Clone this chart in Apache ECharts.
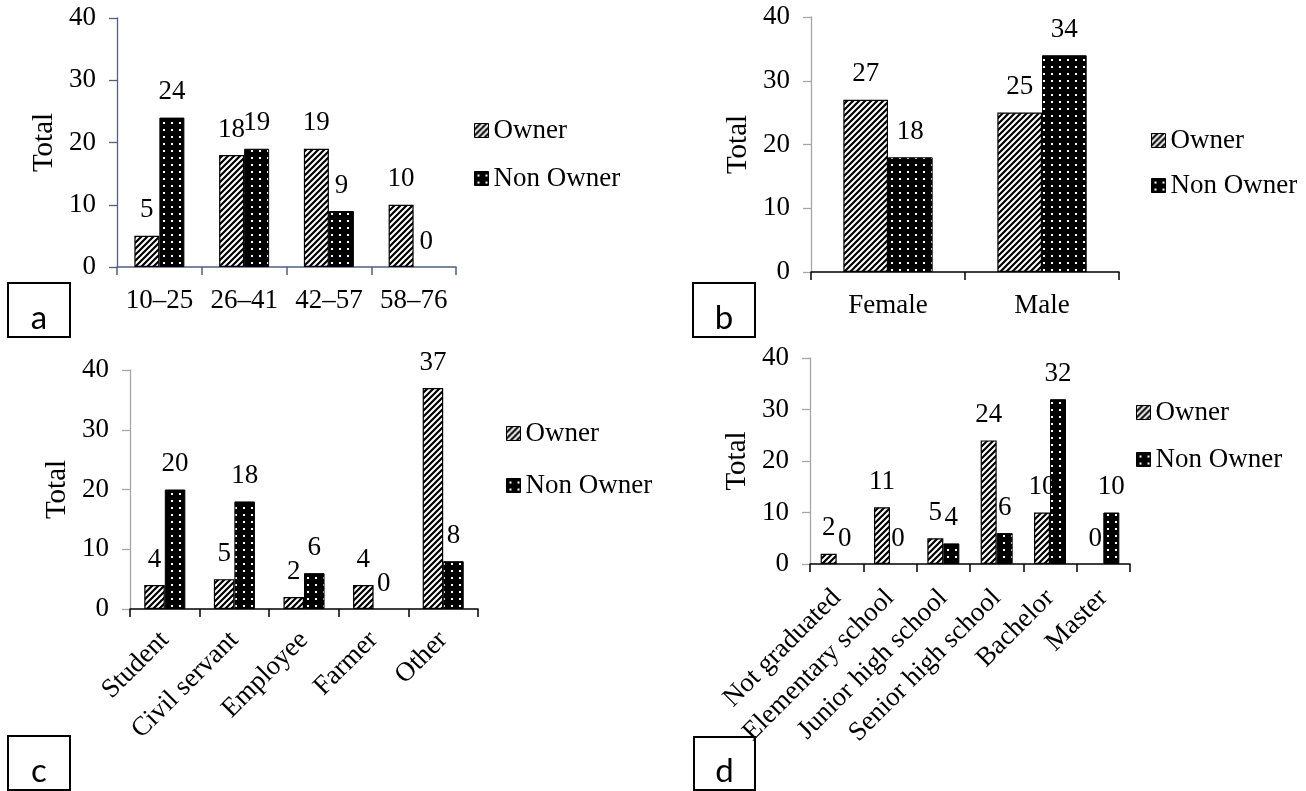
<!DOCTYPE html>
<html>
<head>
<meta charset="utf-8">
<script src="https://cdn.jsdelivr.net/npm/echarts@6/dist/echarts.min.js"></script>
<style>
  html, body { margin: 0; padding: 0; background: #fff; }
  #main { width: 1306px; height: 791px; }
</style>
</head>
<body>
<div id="main"></div>
<script>
// values
var seriesNames = ['Owner', 'Non Owner'];
var yTicks = [0, 10, 20, 30, 40];

var ageCats = ['10–25', '26–41', '42–57', '58–76'];
var ageOwner = [5, 18, 19, 10];
var ageNonOwner = [24, 19, 9, 0];

var genderCats = ['Female', 'Male'];
var genderOwner = [27, 25];
var genderNonOwner = [18, 34];

var jobCats = ['Student', 'Civil servant', 'Employee', 'Farmer', 'Other'];
var jobOwner = [4, 5, 2, 4, 37];
var jobNonOwner = [20, 18, 6, 0, 8];

var eduCats = ['Not graduated', 'Elementary school', 'Junior high school', 'Senior high school', 'Bachelor', 'Master'];
var eduOwner = [2, 11, 5, 24, 10, 0];
var eduNonOwner = [0, 0, 4, 6, 32, 10];

var SERIF = 'Liberation Serif';
var FS = 27;

// fill patterns
function hatchPattern() {
    var c = document.createElement('canvas');
    c.width = c.height = 6;
    var g = c.getContext('2d');
    g.fillStyle = '#fff';
    g.fillRect(0, 0, 6, 6);
    g.strokeStyle = '#000';
    g.lineWidth = 2.2;
    g.beginPath();
    g.moveTo(0, 6); g.lineTo(6, 0);
    g.moveTo(-3, 3); g.lineTo(3, -3);
    g.moveTo(3, 9); g.lineTo(9, 3);
    g.stroke();
    return c;
}
function dotPattern() {
    var c = document.createElement('canvas');
    c.width = 8; c.height = 7;
    var g = c.getContext('2d');
    g.fillStyle = '#000';
    g.fillRect(0, 0, 8, 7);
    g.fillStyle = '#fff';
    g.fillRect(3, 3, 2, 2);
    return c;
}
var hatchFill = { image: hatchPattern(), repeat: 'repeat' };
var dotFill = { image: dotPattern(), repeat: 'repeat' };

// zero-height bars get no outline
function barData(vals) {
    return vals.map(function (v) {
        return v === 0 ? { value: 0, itemStyle: { borderWidth: 0 } } : v;
    });
}

// panel layout
var panels = [
    { cats: ageCats, owner: ageOwner, non: ageNonOwner, grid: { left: 117, top: 18, width: 339, height: 249 },
      rotate: 0, xMargin: 20, axisColor: '#4f6180', yAxisColor: '#4f6180',
      legend: { left: 474, top: 117, itemGap: 21 }, gap: '41%' },
    { cats: genderCats, owner: genderOwner, non: genderNonOwner, grid: { left: 811, top: 17, width: 308, height: 255 },
      rotate: 0, xMargin: 20, axisColor: '#000', yAxisColor: '#a6a6a6',
      legend: { left: 1151, top: 127, itemGap: 18 }, gap: '42%' },
    { cats: jobCats, owner: jobOwner, non: jobNonOwner, grid: { left: 130, top: 370, width: 348, height: 239 },
      rotate: 45, xMargin: 27, axisColor: '#000', yAxisColor: '#a6a6a6',
      legend: { left: 506, top: 420, itemGap: 25 }, gap: '41%' },
    { cats: eduCats, owner: eduOwner, non: eduNonOwner, grid: { left: 810, top: 358, width: 320, height: 206 },
      rotate: 45, xMargin: 30, axisColor: '#000', yAxisColor: '#a6a6a6',
      legend: { left: 1136, top: 399, itemGap: 20 }, gap: '40%' }
];

var grids = [], xAxes = [], yAxes = [], series = [], legends = [];

panels.forEach(function (p, i) {
    grids.push(p.grid);
    xAxes.push({
        type: 'category',
        gridIndex: i,
        data: p.cats,
        axisLine: { lineStyle: { color: p.axisColor, width: 1.5 } },
        axisTick: { show: true, length: 8, lineStyle: { color: p.axisColor, width: 1.5 } },
        axisLabel: { color: '#000', fontFamily: SERIF, fontSize: FS, rotate: p.rotate, margin: p.xMargin, interval: 0 }
    });
    yAxes.push({
        type: 'value',
        gridIndex: i,
        min: yTicks[0],
        max: yTicks[yTicks.length - 1],
        interval: yTicks[1] - yTicks[0],
        name: 'Total',
        nameLocation: 'middle',
        nameGap: 58,
        nameTextStyle: { color: '#000', fontFamily: SERIF, fontSize: 29 },
        splitLine: { show: false },
        axisLine: { show: true, lineStyle: { color: p.yAxisColor, width: 1.3 } },
        axisTick: { show: true, length: 8, lineStyle: { color: p.yAxisColor, width: 1.3 } },
        axisLabel: { color: '#000', fontFamily: SERIF, fontSize: FS, margin: 21 }
    });
    var label = { show: true, position: 'top', distance: 12, color: '#000', fontFamily: SERIF, fontSize: FS };
    series.push({
        type: 'bar', name: seriesNames[0], xAxisIndex: i, yAxisIndex: i,
        data: barData(p.owner), barGap: 0, barCategoryGap: p.gap,
        itemStyle: { color: hatchFill, borderColor: '#000', borderWidth: 1.2 },
        label: label
    });
    series.push({
        type: 'bar', name: seriesNames[1], xAxisIndex: i, yAxisIndex: i,
        data: barData(p.non), barGap: 0, barCategoryGap: p.gap,
        itemStyle: { color: dotFill, borderColor: '#000', borderWidth: 1 },
        label: label
    });
    legends.push({
        left: p.legend.left, top: p.legend.top, orient: 'vertical', padding: 0,
        itemGap: p.legend.itemGap, itemWidth: 14, itemHeight: 14,
        icon: 'rect', selectedMode: false, data: seriesNames,
        itemStyle: { borderColor: '#000', borderWidth: 1 },
        textStyle: { color: '#000', fontFamily: SERIF, fontSize: FS }
    });
});

// panel letters in boxes
var boxes = [
    { t: 'a', x: 8, y: 283, w: 62, h: 54 },
    { t: 'b', x: 693, y: 283, w: 62, h: 54 },
    { t: 'c', x: 8, y: 736, w: 62, h: 54 },
    { t: 'd', x: 694, y: 737, w: 61, h: 53 }
];
var graphics = [];
boxes.forEach(function (b) {
    graphics.push({ type: 'rect', shape: { x: b.x, y: b.y, width: b.w, height: b.h },
        style: { fill: 'none', stroke: '#000', lineWidth: 2 } });
    graphics.push({ type: 'text', x: b.x + b.w / 2, y: b.y + b.h / 2 + 8,
        style: { text: b.t, fontFamily: 'Lato', fontSize: 33, fill: '#000', align: 'center', verticalAlign: 'middle' } });
});

var chart = echarts.init(document.getElementById('main'));
chart.setOption({
    animation: false,
    backgroundColor: '#fff',
    grid: grids,
    xAxis: xAxes,
    yAxis: yAxes,
    legend: legends,
    series: series,
    graphic: graphics
});
</script>
</body>
</html>
